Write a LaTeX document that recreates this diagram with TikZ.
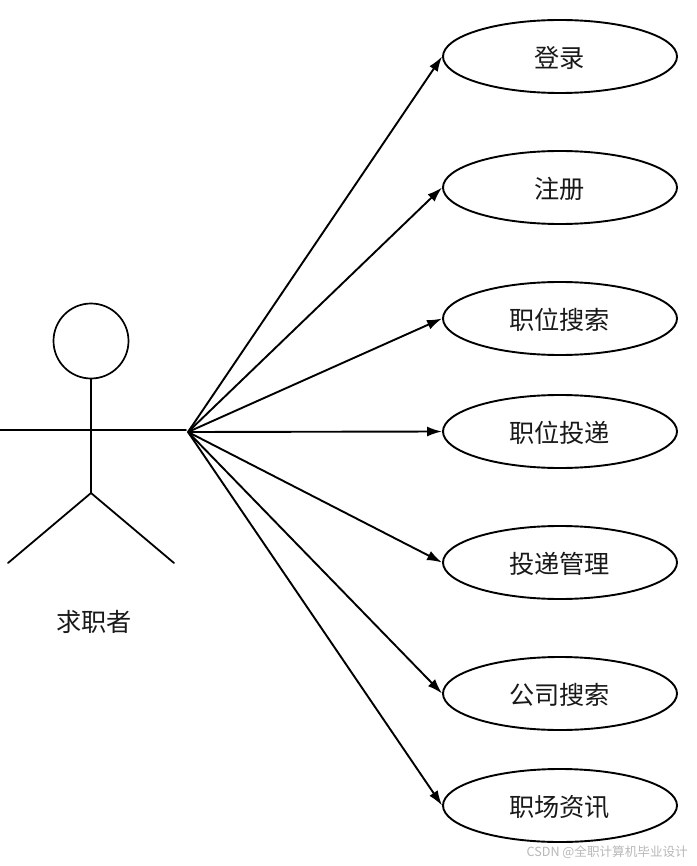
\documentclass[tikz,border=0pt]{standalone}
\usepackage{fontspec}
\setmainfont{Noto Sans CJK SC}
\usetikzlibrary{shapes.geometric,arrows.meta}
\tikzset{
  usecase/.style={ellipse,draw=black,line width=1.9pt,minimum width=234pt,minimum height=73pt,inner sep=0pt},
  lab/.style={font=\fontsize{25.2pt}{28pt}\selectfont,text=black!90,inner sep=0pt},
  conn/.style={line width=1.9pt,-{Latex[length=15pt,width=10pt]}},
  limb/.style={line width=1.8pt,line cap=round},
  wm/.style={font=\fontsize{12.6pt}{15pt}\selectfont,text=black!28,inner sep=0pt,anchor=east}
}
\begin{document}
\begin{tikzpicture}[x=1pt,y=-1pt]
\useasboundingbox (0,0) rectangle (696,866);
\fill[white] (0,0) rectangle (696,866);
\node[usecase] (u1) at (560,56.5) {};
\node[usecase] (u2) at (560,187.5) {};
\node[usecase] (u3) at (560,318.5) {};
\node[usecase] (u4) at (560,431.5) {};
\node[usecase] (u5) at (560,562.5) {};
\node[usecase] (u6) at (560,693.5) {};
\node[usecase] (u7) at (560,805.5) {};
\node[lab] (t1) at (559.5,58) {登录};
\node[lab] (t2) at (559.5,189) {注册};
\node[lab] (t3) at (559.5,320) {职位搜索};
\node[lab] (t4) at (559.5,433) {职位投递};
\node[lab] (t5) at (559.5,564) {投递管理};
\node[lab] (t6) at (559.5,695) {公司搜索};
\node[lab] (t7) at (559.5,807) {职场资讯};
\node[circle,draw=black,line width=1.7pt,minimum size=75pt,inner sep=0pt] (head) at (91,341) {};
\coordinate (hub) at (188,432);
\coordinate (armL) at (0,430.1);
\coordinate (armR) at (186,430.1);
\coordinate (crotch) at (91,493);
\coordinate (legL) at (8,563);
\coordinate (legR) at (174,563);
\draw[limb] (head.south) -- (crotch);
\draw[limb] (armL) -- (armR);
\draw[limb] (legL) -- (crotch) -- (legR);
\node[lab] (actor) at (94,622) {求职者};
\foreach \n in {1,...,7} \draw[conn] (hub) -- (u\n.west);
\node[wm] (mark) at (688,852.5) {CSDN @全职计算机毕业设计};
\end{tikzpicture}
\end{document}
